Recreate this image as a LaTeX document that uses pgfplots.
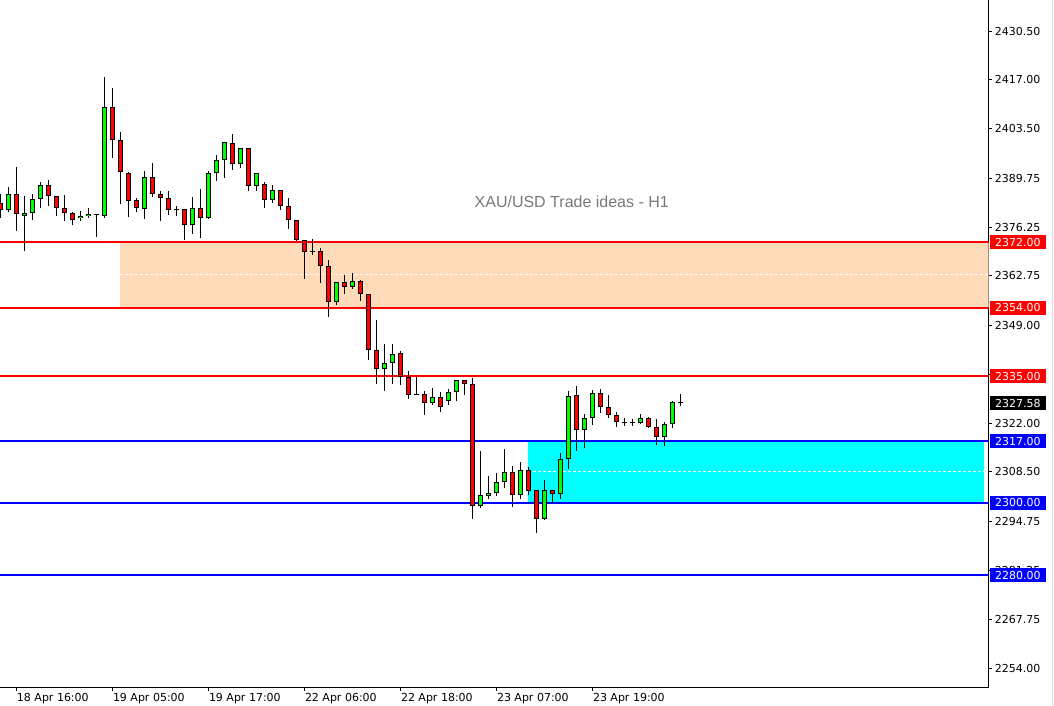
\documentclass[border=0pt]{standalone}
\usepackage{pgfplots}
\pgfplotsset{compat=1.18}
\usepackage{pgfplotstable}
\usepackage{fontspec}
\setmainfont{DejaVu Sans}
\newfontfamily\titlefont{Liberation Sans}
\definecolor{peach}{RGB}{255,218,185}
\definecolor{mtgreen}{RGB}{0,255,0}
\definecolor{mtred}{RGB}{255,0,0}
\definecolor{mtblue}{RGB}{0,0,255}
\definecolor{aqua}{RGB}{0,255,255}
\definecolor{titlegray}{RGB}{120,120,120}
\newcommand\tickfont{\fontsize{11bp}{13bp}\selectfont}

% bullish candles: x, body low (open), body high (close), low, high
\pgfplotstableread{
x lo hi l h
1 2380.9 2385.3 2380.5 2387.3
3 2379.4 2380.1 2369.5 2384.9
4 2380.1 2383.9 2378.3 2385.4
5 2383.9 2387.8 2381.4 2388.6
10 2378.7 2379.3 2378.0 2380.6
11 2379.2 2379.9 2378.9 2381.5
13 2379.4 2409.4 2378.7 2417.8
18 2381.2 2390.0 2378.6 2391.8
24 2376.7 2381.5 2374.4 2384.6
26 2378.7 2391.1 2378.6 2391.9
27 2391.1 2394.7 2389.1 2396.2
28 2394.7 2399.7 2389.7 2399.8
30 2393.6 2398.0 2392.7 2398.1
32 2387.5 2391.1 2386.3 2391.2
34 2383.7 2386.4 2382.9 2387.8
42 2355.6 2361.0 2354.8 2361.0
44 2359.6 2361.3 2359.0 2363.5
48 2336.9 2338.6 2331.0 2343.9
49 2338.6 2341.1 2332.9 2343.9
54 2327.5 2329.2 2327.1 2331.7
56 2328.1 2330.6 2326.9 2331.4
57 2330.6 2333.9 2328.0 2333.9
60 2299.0 2302.1 2298.5 2314.3
61 2301.8 2302.6 2301.0 2307.4
62 2302.6 2305.7 2301.8 2308.2
63 2305.7 2308.4 2304.2 2314.9
65 2302.0 2309.0 2301.1 2311.3
68 2295.6 2303.4 2295.3 2306.3
70 2302.3 2312.0 2301.1 2313.8
71 2312.0 2329.4 2309.4 2330.8
73 2320.2 2323.4 2315.2 2324.5
74 2323.4 2330.3 2321.6 2331.1
80 2322.0 2323.4 2321.9 2324.5
83 2318.3 2321.7 2315.8 2322.2
84 2321.7 2327.8 2320.8 2328.1
}\upT

% bearish candles: x, body low (close), body high (open), low, high
\pgfplotstableread{
x lo hi l h
0 2381.0 2382.8 2378.9 2385.4
2 2379.8 2385.3 2375.3 2392.8
6 2384.8 2387.8 2382.2 2389.3
7 2381.5 2384.8 2379.4 2384.8
8 2380.1 2381.5 2378.0 2385.1
9 2378.1 2380.1 2376.7 2380.3
14 2400.3 2409.4 2395.5 2414.7
15 2391.4 2400.3 2382.7 2402.5
16 2383.4 2391.1 2379.1 2391.4
17 2381.5 2383.7 2380.3 2384.3
19 2385.3 2390.0 2384.7 2393.9
20 2384.2 2385.3 2377.8 2386.2
21 2380.9 2384.2 2379.7 2386.2
23 2376.7 2381.2 2372.7 2381.2
25 2378.7 2381.5 2373.1 2386.8
29 2393.6 2399.4 2392.1 2402.0
31 2387.5 2398.0 2386.3 2398.1
33 2383.7 2388.1 2381.6 2388.7
35 2382.0 2386.4 2381.1 2386.5
36 2378.1 2382.0 2375.8 2384.2
37 2372.6 2378.1 2372.5 2378.2
38 2369.3 2372.6 2362.0 2372.7
40 2365.4 2369.6 2360.9 2370.5
41 2355.6 2365.4 2351.5 2367.2
43 2359.6 2361.0 2357.8 2362.9
45 2357.7 2361.3 2355.9 2361.5
46 2342.2 2357.7 2339.4 2357.7
47 2336.9 2342.2 2332.9 2350.6
50 2334.7 2341.3 2332.7 2342.0
51 2329.7 2334.7 2328.8 2336.4
53 2327.5 2330.0 2324.4 2330.8
55 2326.4 2329.2 2325.2 2330.6
58 2332.8 2333.9 2329.9 2334.0
59 2299.0 2332.8 2295.6 2334.4
64 2302.0 2308.4 2298.9 2310.1
66 2303.2 2309.0 2302.0 2309.8
67 2295.6 2303.4 2291.5 2303.5
69 2302.3 2303.4 2299.8 2303.5
72 2320.2 2329.7 2314.3 2332.3
75 2326.4 2330.3 2324.9 2331.4
76 2324.2 2326.4 2323.5 2329.7
77 2322.2 2324.2 2321.0 2325.0
81 2320.9 2323.4 2320.8 2323.6
82 2318.3 2320.9 2316.1 2323.1
}\downT

% doji candles
\pgfplotstableread{
x lo hi l h
12 2379.7 2379.7 2373.6 2379.8
22 2380.9 2381.0 2379.4 2382.2
39 2369.4 2369.5 2368.6 2373.0
52 2329.8 2329.8 2329.7 2334.9
78 2322.1 2322.2 2321.3 2323.4
79 2322.1 2322.2 2321.3 2323.1
85 2327.6 2327.6 2326.7 2330.0
}\dojiT

\pgfplotsset{
  wick/.style={draw=none, mark=none, forget plot,
    error bars/.cd, y dir=plus, y explicit, error mark=none,
    error bar style={draw=black, line width=1bp, line cap=butt}},
  body/.style={draw=none, mark=none, forget plot,
    error bars/.cd, y dir=plus, y explicit, error mark=none,
    error bar style={draw=black, line width=5bp, line cap=butt}},
  bodyfill/.style={draw=none, mark=none, forget plot,
    error bars/.cd, y dir=plus, y explicit, error mark=none,
    error bar style={draw=#1, line width=3bp, line cap=butt}},
}

\begin{document}
\begin{tikzpicture}
\path[use as bounding box] (0,0) rectangle (1054bp,706bp);
\begin{axis}[
  at={(0bp,18.7bp)}, anchor=south west,
  scale only axis, width=988.7bp, height=687.3bp,
  xmin=-0.0375, xmax=123.55, ymin=2248.93, ymax=2439.08,
  axis x line*=bottom, axis y line*=right,
  axis line style={line width=1bp, black},
  tick align=outside, major tick length=3.5bp,
  tick style={black, line width=1bp},
  xtick={2,14,26,38,50,62,74},
  xticklabels={18 Apr 16:00, 19 Apr 05:00, 19 Apr 17:00, 22 Apr 06:00, 22 Apr 18:00, 23 Apr 07:00, 23 Apr 19:00},
  xticklabel style={font=\tickfont, anchor=north west, inner sep=0pt, xshift=0.5bp, yshift=-2bp},
  ytick={2254,2267.75,2281.25,2294.75,2308.5,2322,2335.5,2349,2362.75,2376.25,2389.75,2403.5,2417,2430.5},
  yticklabels={2254.00,2267.75,2281.25,2294.75,2308.50,2322.00,2335.50,2349.00,2362.75,2376.25,2389.75,2403.50,2417.00,2430.50},
  yticklabel style={font=\tickfont, anchor=west, inner sep=0pt, xshift=2.5bp},
]
% zones
\addplot[fill=peach, draw=none, forget plot] coordinates {(14.96,2354) (123.55,2354) (123.55,2372) (14.96,2372) (14.96,2354)};
\addplot[fill=aqua, draw=none, forget plot] coordinates {(65.96,2300) (122.96,2300) (122.96,2317) (65.96,2317) (65.96,2300)};
\addplot[white, line width=1bp, dash pattern=on 3bp off 2bp, forget plot] coordinates {(14.96,2363) (123.55,2363)};
\addplot[white, line width=1bp, dash pattern=on 3bp off 2bp, forget plot] coordinates {(66.6,2308.5) (122.96,2308.5)};
% levels
\addplot[mtred, line width=2bp, forget plot] coordinates {(-0.0375,2372) (123.55,2372)};
\addplot[mtred, line width=2bp, forget plot] coordinates {(-0.0375,2354) (123.55,2354)};
\addplot[mtred, line width=2bp, forget plot] coordinates {(-0.0375,2335) (123.55,2335)};
\addplot[mtblue, line width=2bp, forget plot] coordinates {(-0.0375,2317) (123.55,2317)};
\addplot[mtblue, line width=2bp, forget plot] coordinates {(-0.0375,2300) (123.55,2300)};
\addplot[mtblue, line width=2bp, forget plot] coordinates {(-0.0375,2280) (123.55,2280)};
% wicks
\addplot[wick] table[x=x, y=l, y error plus expr=\thisrow{h}-\thisrow{l}] {\upT};
\addplot[wick] table[x=x, y=l, y error plus expr=\thisrow{h}-\thisrow{l}] {\downT};
\addplot[wick] table[x=x, y=l, y error plus expr=\thisrow{h}-\thisrow{l}] {\dojiT};
% bodies
\addplot[body] table[x=x, y=lo, y error plus expr={max(\thisrow{hi}-\thisrow{lo},0.28)}] {\upT};
\addplot[body] table[x=x, y=lo, y error plus expr={max(\thisrow{hi}-\thisrow{lo},0.28)}] {\downT};
\addplot[body] table[x=x, y=lo, y error plus expr={max(\thisrow{hi}-\thisrow{lo},0.28)}] {\dojiT};
\addplot[bodyfill=mtgreen] table[x=x, y expr=\thisrow{lo}+0.28, y error plus expr={max(\thisrow{hi}-\thisrow{lo}-0.56,0)}] {\upT};
\addplot[bodyfill=mtred] table[x=x, y expr=\thisrow{lo}+0.28, y error plus expr={max(\thisrow{hi}-\thisrow{lo}-0.56,0)}] {\downT};
% title
\node[font=\titlefont\fontsize{16bp}{18bp}\selectfont, text=titlegray, anchor=base] at (axis cs:71.43,2381.7) {XAU/USD Trade ideas - H1};
\coordinate (r2372) at (axis cs:123.55,2372);
\coordinate (r2354) at (axis cs:123.55,2354);
\coordinate (r2335) at (axis cs:123.55,2335);
\coordinate (r2327) at (axis cs:123.55,2327.58);
\coordinate (r2317) at (axis cs:123.55,2317);
\coordinate (r2300) at (axis cs:123.55,2300);
\coordinate (r2280) at (axis cs:123.55,2280);
\end{axis}
\foreach \n/\c/\t in {r2372/mtred/2372.00, r2354/mtred/2354.00, r2335/mtred/2335.00, r2327/black/2327.58, r2317/mtblue/2317.00, r2300/mtblue/2300.00, r2280/mtblue/2280.00}{
  \node[fill=\c, text=white, font=\tickfont, anchor=west, inner xsep=5bp, inner ysep=0pt, minimum height=14bp] at ([xshift=1.3bp]\n) {\t};
}
\draw[black!12, line width=1bp] (1052.5bp,0) -- (1052.5bp,706bp);
\end{tikzpicture}
\end{document}
